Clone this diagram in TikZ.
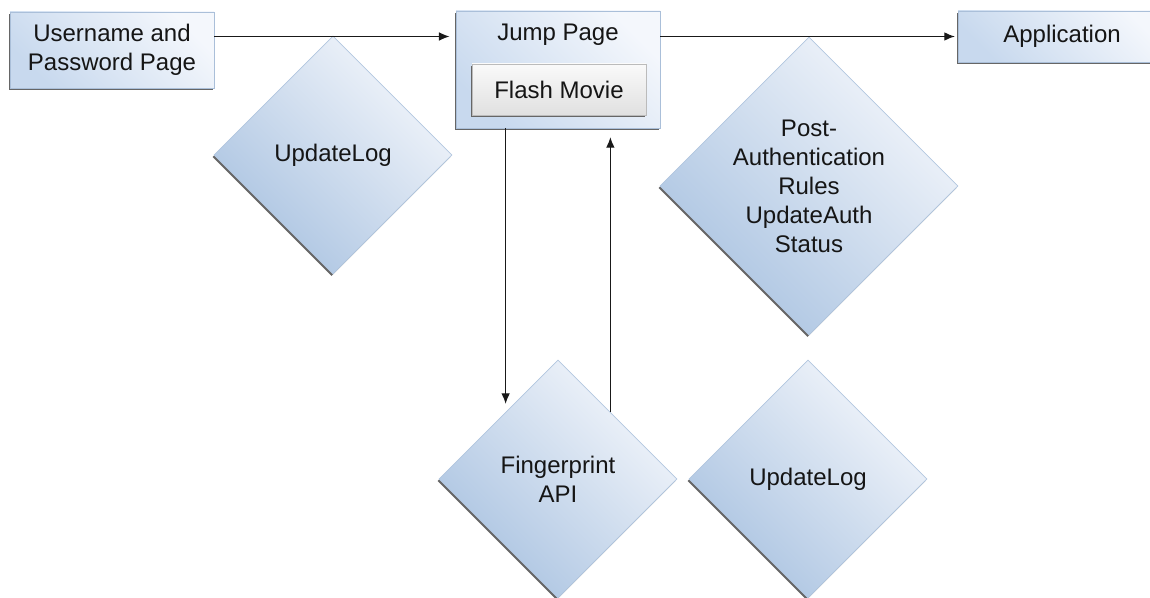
\documentclass[tikz,border=0pt]{standalone}
\usepackage{fontspec}
\setmainfont{Liberation Sans}
\usetikzlibrary{shapes.geometric,shadows,arrows.meta}

\definecolor{boxlight}{HTML}{F4F7FC}
\definecolor{boxdark}{HTML}{C8D9EE}
\definecolor{boxedge}{HTML}{AABFD9}
\definecolor{dialight}{HTML}{F3F6FB}
\definecolor{diadark}{HTML}{AAC3E1}
\definecolor{diaedge}{HTML}{B2C7E0}
\definecolor{txt}{HTML}{151515}
\definecolor{grlight}{HTML}{FAFAFA}
\definecolor{grdark}{HTML}{E0E0E0}
\definecolor{gredge}{HTML}{BBBBBB}

\tikzset{
  dropsh/.style={general shadow={fill=black!60, shadow xshift=-1.1pt, shadow yshift=-1.5pt}},
  label font/.style={font=\fontsize{18}{21.75}\selectfont, text=txt, align=center},
  pagebox/.style={rectangle, draw=boxedge, line width=0.6pt,
    top color=boxlight, bottom color=boxdark, shading angle=-45,
    dropsh, inner sep=0pt, label font},
  moviebox/.style={rectangle, draw=gredge, line width=0.6pt,
    top color=grlight, bottom color=grdark,
    dropsh, inner sep=0pt, label font},
  plaintext/.style={inner sep=0pt, label font},
  decision/.style={diamond, aspect=1, draw=diaedge, line width=0.6pt,
    top color=dialight, bottom color=diadark, shading angle=-45,
    dropsh, inner sep=0pt, minimum width=178.5pt, minimum height=178.5pt, label font},
  arr/.style={draw=black!90, line width=1pt, -{Latex[length=8pt,width=6.5pt]}}
}

\begin{document}
\begin{tikzpicture}[x=0.75pt,y=-0.75pt]
\clip (0,0) rectangle (1150,598);

% page boxes
\node[pagebox, minimum width=153pt, minimum height=57pt] (user) at (112,50) {Username and\\Password Page};
\node[pagebox, minimum width=153pt, minimum height=87.75pt] (jump) at (558,69.5) {};
\node[plaintext] (jumptitle) at (558,35) {Jump Page};
\node[moviebox, minimum width=130.5pt, minimum height=38.25pt] (movie) at (559,89.5) {Flash Movie};
\node[pagebox, minimum width=156pt, minimum height=38.25pt] (app) at (1062,36.5) {Application};

% processing steps
\node[decision] (log1) at (333,155) {UpdateLog};
\node[decision, minimum width=223.5pt, minimum height=223.5pt] (post) at (809,186)
  {Post-\\Authentication\\Rules\\UpdateAuth\\Status};
\node[decision] (fp) at (558,479) {Fingerprint\\API};
\node[decision] (log2) at (808,479) {UpdateLog};

% flow
\draw[arr, shorten >=4.5pt] (user.east |- app.west) -- (jump.west |- app.west);
\draw[arr, shorten >=2pt] (jump.east |- app.west) -- (app.west);
\draw[arr, shorten >=6pt] (fp.128 |- jump.south) -- (fp.128);
\draw[arr, shorten >=6.5pt] (fp.52) -- (fp.52 |- jump.south);
\end{tikzpicture}
\end{document}
